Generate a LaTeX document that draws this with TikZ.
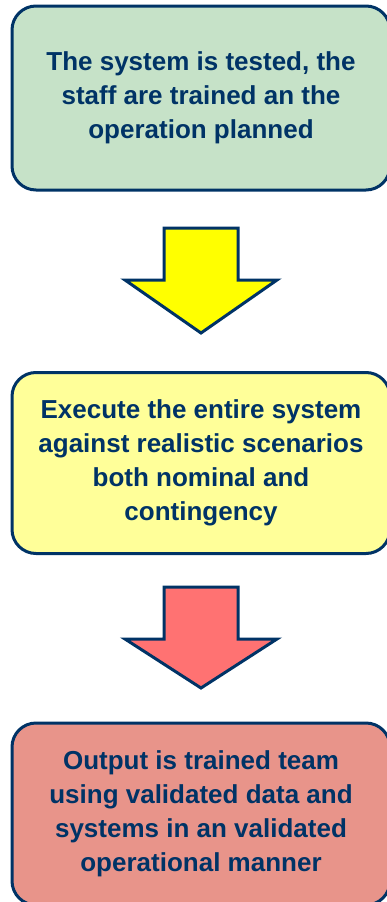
\documentclass[tikz,border=0pt]{standalone}
\usepackage{fontspec}
\setmainfont{Liberation Sans}
\usepackage{xcolor}
\usepackage{tikz}
\usetikzlibrary{arrows.meta}

\definecolor{navy}{HTML}{003366}
\definecolor{stepgreen}{HTML}{C6E2C8}
\definecolor{stepyellow}{HTML}{FFFF99}
\definecolor{stepred}{HTML}{E8948A}
\definecolor{arrowyellow}{HTML}{FFFF00}
\definecolor{arrowred}{HTML}{FF7272}

\tikzset{
  stagebox/.style={draw=navy,line width=3pt,rounded corners=24pt,align=center,
    minimum width=378pt,text=navy,font=\fontsize{26}{34}\selectfont\bfseries},
  blockarrow/.style={draw=navy,line width=3pt,line join=miter}
}

\begin{document}
\begin{tikzpicture}[x=1pt,y=-1pt]
\useasboundingbox (0,0) rectangle (386,902);

\node (tested)	at (201,98)	[stagebox,fill=stepgreen,minimum height=184pt] {The system is tested, the\\staff are trained an the\\operation planned};

\draw [blockarrow,fill=arrowyellow] (164,228) -- (238,228) -- (238,280) -- (277,280) -- (201,333) -- (125,280) -- (164,280) -- cycle;

\node (execute)	at (201,463)	[stagebox,fill=stepyellow,minimum height=181pt] {Execute the entire system\\against realistic scenarios\\both nominal and\\contingency};

\draw [blockarrow,fill=arrowred] (164,587) -- (238,587) -- (238,639) -- (277,639) -- (201,688) -- (125,639) -- (164,639) -- cycle;

\node (output)	at (201,814)	[stagebox,fill=stepred,minimum height=182pt] {Output is trained team\\using validated data and\\systems in an validated\\operational manner};

\end{tikzpicture}
\end{document}
